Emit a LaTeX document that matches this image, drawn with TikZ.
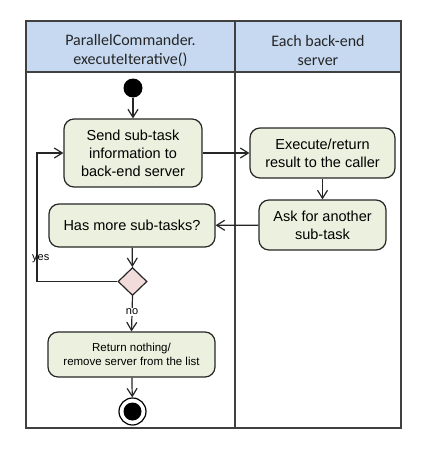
\documentclass[tikz,border=0pt]{standalone}
\usepackage{fontspec}
\setmainfont{Liberation Sans}
\newfontfamily\hdrfont{Carlito}
\usetikzlibrary{arrows.meta,shapes.geometric}
\definecolor{hdrblue}{HTML}{C6D9F1}
\definecolor{actgreen}{HTML}{EBF1DE}
\definecolor{decpink}{HTML}{F2DCDB}
\definecolor{lanegray}{HTML}{404040}
\tikzset{
  lane/.style={draw=lanegray,line width=1.3pt},
  hdr/.style={font=\hdrfont\fontsize{16}{19}\selectfont,align=center,text=black!85},
  act/.style={draw=black!85,fill=actgreen,rounded corners=10pt,line width=1.2pt,align=center,
     font=\fontsize{14.5}{18}\selectfont,inner sep=0pt},
  flow/.style={draw=black!85,line width=1.2pt,-{Straight Barb[length=8pt,width=10pt,line width=1.2pt]}},
  lbl/.style={font=\fontsize{11}{12}\selectfont,inner sep=1pt},
}
\begin{document}
\begin{tikzpicture}[x=1pt,y=-1pt]
\useasboundingbox (0,0) rectangle (436,453);
% swimlanes
\fill[hdrblue] (26,21) rectangle (401,72);
\draw[lane] (26,21) rectangle (401,428);
\draw[lane] (26,72) -- (401,72);
\draw[lane] (235,21) -- (235,428);
\node[hdr] (h1) at (130.5,51) {ParallelCommander.\\executeIterative()};
\node[hdr] (h2) at (318,51) {Each back-end\\server};
% nodes
\node[circle,fill=black,minimum size=19pt,inner sep=0pt] (start) at (133,88) {};
\node[act,minimum width=138pt,minimum height=68pt] (send) at (133,153) {Send sub-task\\information to\\back-end server};
\node[act,minimum width=145pt,minimum height=50pt] (exec) at (322.5,153) {Execute/return\\result to the caller};
\node[act,minimum width=127pt,minimum height=50pt] (ask) at (322.5,225) {Ask for another\\sub-task};
\node[act,minimum width=166pt,minimum height=43pt] (more) at (132,225.5) {Has more sub-tasks?};
\node[diamond,draw=black!85,fill=decpink,line width=1.2pt,minimum width=29pt,minimum height=28pt,inner sep=0pt] (dec) at (132.5,281.5) {};
\node[act,minimum width=167pt,minimum height=45pt,font=\fontsize{11.5}{14}\selectfont] (ret) at (131.5,354.5) {Return nothing/\\remove server from the list};
\node[circle,draw=black,line width=1.2pt,minimum size=27pt,inner sep=0pt] (end) at (132.5,411.5) {};
\node[circle,fill=black,minimum size=18pt,inner sep=0pt] (endin) at (end) {};
\coordinate (loopB) at (37,281.5);
\coordinate (loopT) at (37,153);
% connectors
\draw[flow] (start) -- (send);
\draw[flow] (send) -- (exec);
\draw[flow] (exec) -- (ask);
\draw[flow] (ask) -- (more);
\draw[flow] (more) -- (dec);
\draw[flow] (dec.west) -- (loopB) -- (loopT) -- (send.west);
\draw[flow] (dec.south) -- node[lbl,fill=white,pos=0.45] (no) {no} (ret.north);
\draw[flow] (ret) -- (end);
\node[lbl,anchor=west] (yes) at (31,259) {yes};
\end{tikzpicture}
\end{document}
